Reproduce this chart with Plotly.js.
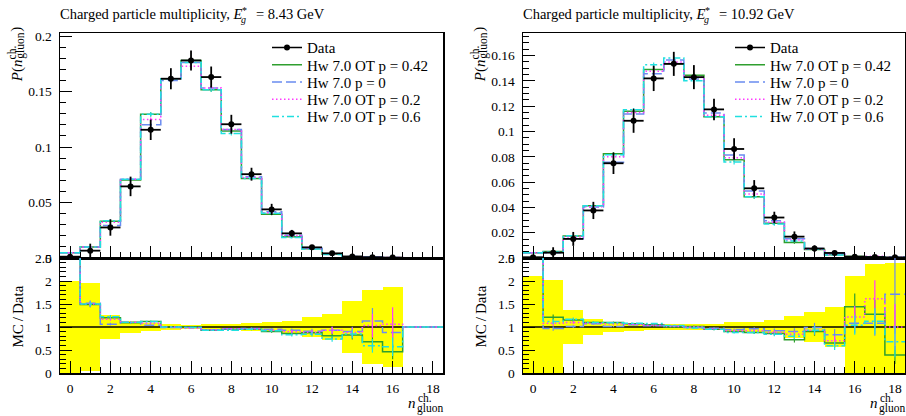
<!DOCTYPE html>
<html>
<head>
<meta charset="utf-8">
<script src="https://cdn.plot.ly/plotly-3.0.1.min.js"></script>
<style>html,body{margin:0;padding:0;background:#fff}#plot{width:906px;height:416px}</style>
</head>
<body>
<div id="plot"></div>
<script>
// ---------------- data ----------------
const nBins = [0,1,2,3,4,5,6,7,8,9,10,11,12,13,14,15,16,17,18];
const modelNames = ['Hw 7.0 OT p = 0.42', 'Hw 7.0 p = 0', 'Hw 7.0 OT p = 0.2', 'Hw 7.0 OT p = 0.6'];
const energies = ['8.43', '10.92'];

// E*_g = 8.43 GeV
const dataL    = [0.0012, 0.0066, 0.0275, 0.0645, 0.1155, 0.1615, 0.178, 0.163, 0.1205, 0.0755, 0.0438, 0.0222, 0.0096, 0.0042, 0.0014, 0.0007, 0.0004];
const dataErrL = [0.0012, 0.0063, 0.0074, 0.0088, 0.0092, 0.0095, 0.0090, 0.0095, 0.0085, 0.0058, 0.0050, 0.0031, 0.0021, 0.0012, 0.0008, 0.00056, 0.00035];
const mcP042L  = [0.0048, 0.00983, 0.0330, 0.0703, 0.1294, 0.1615, 0.178, 0.1516, 0.1145, 0.0717, 0.0394, 0.0191, 0.0084, 0.0034, 0.00116, 0.000476, 0.000184, 0.0001, 0.00005];
const mcP0L    = [0.0048, 0.0100, 0.0292, 0.0710, 0.1201, 0.1599, 0.1762, 0.1532, 0.1157, 0.0732, 0.0416, 0.0206, 0.0087, 0.0039, 0.00126, 0.000791, 0.000352, 0.0001, 0.00005];
const mcP02L   = [0.0048, 0.0099, 0.0322, 0.0710, 0.1247, 0.1615, 0.1727, 0.1532, 0.1157, 0.0725, 0.0407, 0.0200, 0.0085, 0.0039, 0.00123, 0.000721, 0.000424, 0.0001, 0.00005];
const mcP06L   = [0.0048, 0.0099, 0.0336, 0.0710, 0.1294, 0.1615, 0.1762, 0.1516, 0.1121, 0.0717, 0.0403, 0.0184, 0.0081, 0.0031, 0.00119, 0.000413, 0.000228, 0.0001, 0.00005];
const mcRelErrL = [0.05, 0.04, 0.03, 0.02, 0.015, 0.012, 0.012, 0.012, 0.015, 0.02, 0.025, 0.04, 0.06, 0.08, 0.12, 0.25, 0.35, 0, 0];

// E*_g = 10.92 GeV
const dataR    = [0.0006, 0.0042, 0.0151, 0.0376, 0.0749, 0.1085, 0.142, 0.1535, 0.143, 0.1175, 0.0862, 0.0551, 0.032, 0.0169, 0.0075, 0.004, 0.001, 0.0008, 0.0005];
const dataErrR = [0.00066, 0.0043, 0.0055, 0.0068, 0.0085, 0.0095, 0.0100, 0.0095, 0.0095, 0.0085, 0.0085, 0.0065, 0.0046, 0.0041, 0.0025, 0.0017, 0.0011, 0.0011, 0.0007];
const mcP042R  = [0.0042, 0.00508, 0.01737, 0.04136, 0.08239, 0.1161, 0.1491, 0.1535, 0.1444, 0.1116, 0.0776, 0.0485, 0.0275, 0.01217, 0.00675, 0.0026, 0.00144, 0.00102, 0.000195];
const mcP0R    = [0.0042, 0.00407, 0.01525, 0.04023, 0.07565, 0.1139, 0.1456, 0.1566, 0.1416, 0.1146, 0.0815, 0.0529, 0.0294, 0.01521, 0.00743, 0.00332, 0.00108, 0.000864, 0.000855];
const mcP02R   = [0.0042, 0.00454, 0.01661, 0.04061, 0.08014, 0.1150, 0.1477, 0.1550, 0.1430, 0.1128, 0.0793, 0.0507, 0.0282, 0.0142, 0.00698, 0.0028, 0.00122, 0.00129, 0.0005];
const mcP06R   = [0.0042, 0.0047, 0.01767, 0.04136, 0.08164, 0.1172, 0.1527, 0.1581, 0.1401, 0.1116, 0.0759, 0.0485, 0.0269, 0.01352, 0.00698, 0.00236, 0.00104, 0.0009, 0.00034];
const mcRelErrR = [0.05, 0.05, 0.03, 0.02, 0.015, 0.012, 0.012, 0.012, 0.015, 0.02, 0.025, 0.035, 0.05, 0.08, 0.1, 0.15, 0.2, 0.25, 0.5];

// ---------------- styles / layout ----------------
const FONT = 'Liberation Serif, DejaVu Serif, serif';
const W = 906, H = 416;
const modelColors = ['#2f9f2f', '#6a8cf0', '#ff3cff', '#20e0e0'];
const modelDashes = ['solid', '10px,4px', '1.5px,2.5px', '7px,3px,2px,3px'];
const px = x => x / W, py = y => 1 - y / H;

const ctx = document.createElement('canvas').getContext('2d');
function tw(t, size, italic) { ctx.font = (italic ? 'italic ' : '') + size + 'px Liberation Serif, serif'; return ctx.measureText(t).width; }
function ann(text, x, y, size, o) {
  return Object.assign({text: text, x: px(x), y: py(y), xref: 'paper', yref: 'paper', showarrow: false,
    xanchor: 'center', yanchor: 'middle', borderpad: 0, borderwidth: 0,
    font: {family: FONT, size: size, color: '#000'}}, o || {});
}

const panels = [
  {data: dataL, err: dataErrL, mc: [mcP042L, mcP0L, mcP02L, mcP06L], rel: mcRelErrL,
   xt: 'x', yt: 'y', xr: 'x2', yr: 'y2', left: 60, right: 443, energy: energies[0],
   legends: ['legend', 'legend2', 'legend3', 'legend4', 'legend5'], legX: 267},
  {data: dataR, err: dataErrR, mc: [mcP042R, mcP0R, mcP02R, mcP06R], rel: mcRelErrR,
   xt: 'x3', yt: 'y3', xr: 'x4', yr: 'y4', left: 523, right: 905, energy: energies[1],
   legends: ['legend6', 'legend7', 'legend8', 'legend9', 'legend10'], legX: 730}
];

const traces = [];
panels.forEach(p => {
  const nD = p.data.length;
  const dBins = nBins.slice(0, nD);
  const edgesD = dBins.map(n => n - 0.5).concat([dBins[nD - 1] + 0.5]);
  const edgesAll = nBins.map(n => n - 0.5).concat([nBins[nBins.length - 1] + 0.5]);
  const relD = p.data.map((v, i) => p.err[i] / v);
  // data uncertainty band in ratio
  traces.push({type: 'bar', x: dBins, base: relD.map(r => 1 - r), y: relD.map(r => 2 * r), width: 1,
    xaxis: p.xr, yaxis: p.yr, marker: {color: '#ffff00', line: {width: 0}}, showlegend: false, hoverinfo: 'skip'});
  // data / data = 1
  const ones = p.data.map(v => v / v);
  traces.push({type: 'scatter', mode: 'lines', x: edgesD, y: ones.concat([ones[nD - 1]]),
    line: {color: '#000', width: 1.6, shape: 'hv'}, xaxis: p.xr, yaxis: p.yr, showlegend: false, hoverinfo: 'skip'});
  p.mc.forEach((vals, k) => {
    const lstyle = {color: modelColors[k], width: 1.5, dash: modelDashes[k], shape: 'hv'};
    const ratio = vals.map((v, i) => (p.data[i] == null ? 1 : v / p.data[i]));
    traces.push({type: 'scatter', mode: 'lines', x: edgesAll, y: vals.concat([vals[vals.length - 1]]),
      line: lstyle, xaxis: p.xt, yaxis: p.yt, name: modelNames[k], legend: p.legends[k + 1], showlegend: true, hoverinfo: 'skip'});
    traces.push({type: 'scatter', mode: 'lines', x: edgesAll, y: ratio.concat([ratio[ratio.length - 1]]),
      line: lstyle, xaxis: p.xr, yaxis: p.yr, showlegend: false, hoverinfo: 'skip'});
    const eb = {type: 'data', color: modelColors[k], thickness: 1.2, width: 0};
    traces.push({type: 'scatter', mode: 'markers', x: nBins, y: vals, marker: {size: 0.1, color: 'rgba(0,0,0,0)'},
      error_y: Object.assign({array: vals.map((v, i) => v * p.rel[i])}, eb), xaxis: p.xt, yaxis: p.yt, showlegend: false, hoverinfo: 'skip'});
    traces.push({type: 'scatter', mode: 'markers', x: nBins, y: ratio, marker: {size: 0.1, color: 'rgba(0,0,0,0)'},
      error_y: Object.assign({array: ratio.map((r, i) => r * p.rel[i])}, eb), xaxis: p.xr, yaxis: p.yr, showlegend: false, hoverinfo: 'skip'});
  });
  // data points
  traces.push({type: 'scatter', mode: 'markers', x: dBins, y: p.data, marker: {color: '#000', size: 6},
    error_x: {type: 'data', array: dBins.map(() => 0.5), color: '#000', thickness: 1.8, width: 0},
    error_y: {type: 'data', array: p.err, color: '#000', thickness: 1.8, width: 0},
    xaxis: p.xt, yaxis: p.yt, showlegend: false, hoverinfo: 'skip'});
  // legend entry for data
  traces.push({type: 'scatter', mode: 'lines+markers', x: [null], y: [null], name: 'Data', legend: p.legends[0],
    line: {color: '#000', width: 1.6}, marker: {color: '#000', size: 6}, xaxis: p.xt, yaxis: p.yt, showlegend: true});
});

function xAxis(p, anchor, labels) {
  return {domain: [px(p.left), px(p.right)], anchor: anchor, range: [-0.5, 18.5], dtick: 2, tick0: 0,
    ticks: 'inside', ticklen: 12, tickwidth: 1, tickcolor: '#000', showticklabels: labels,
    tickfont: {family: FONT, size: 13.5, color: '#000'}, ticklabelstandoff: 2,
    minor: {dtick: 0.5, tick0: 0, ticks: 'inside', ticklen: 6, tickwidth: 1, tickcolor: '#000', showgrid: false},
    showline: true, mirror: true, linecolor: '#000', linewidth: 1.5, showgrid: false, zeroline: false, fixedrange: true};
}
function yAxis(anchor, dom, range, dt, mdt) {
  return {domain: dom, anchor: anchor, range: range, dtick: dt, tick0: 0,
    ticks: 'inside', ticklen: 12, tickwidth: 1, tickcolor: '#000',
    tickfont: {family: FONT, size: 13.5, color: '#000'}, ticklabelstandoff: 4,
    minor: {dtick: mdt, tick0: 0, ticks: 'inside', ticklen: 6, tickwidth: 1, tickcolor: '#000', showgrid: false},
    showline: true, mirror: true, linecolor: '#000', linewidth: 1.5, showgrid: false, zeroline: false, fixedrange: true};
}

const topDom = [py(258), py(33)], ratDom = [py(373), py(258)];
const layout = {
  width: W, height: H, margin: {l: 0, r: 0, t: 0, b: 0},
  paper_bgcolor: '#fff', plot_bgcolor: '#fff', barmode: 'overlay', bargap: 0, showlegend: true,
  font: {family: FONT, color: '#000'},
  xaxis: xAxis(panels[0], 'y', false),
  yaxis: yAxis('x', topDom, [0, 0.2027], 0.05, 0.01),
  xaxis2: xAxis(panels[0], 'y2', true),
  yaxis2: yAxis('x2', ratDom, [0, 2.5], 0.5, 0.1),
  xaxis3: xAxis(panels[1], 'y3', false),
  yaxis3: yAxis('x3', topDom, [0, 0.1779], 0.02, 0.005),
  xaxis4: xAxis(panels[1], 'y4', true),
  yaxis4: yAxis('x4', ratDom, [0, 2.5], 0.5, 0.1),
  annotations: []
};

const legRows = [47.7, 65, 82.2, 99.5, 116.7];
panels.forEach(p => {
  p.legends.forEach((id, i) => {
    layout[id] = {x: px(p.legX), y: py(legRows[i]), xanchor: 'left', yanchor: 'middle',
      bgcolor: 'rgba(0,0,0,0)', borderwidth: 0, font: {family: FONT, size: 15, color: '#000'}, itemwidth: 30};
  });
  // title
  const a = 'Charged particle multiplicity, ';
  const xe = p.left + tw(a, 14.5) + tw('E', 14.5, true);
  layout.annotations.push(
    ann(a + '<i>E</i>', p.left, 14, 14.5, {xanchor: 'left'}),
    ann('*', xe + 2.5, 10.5, 10),
    ann('<i>g</i>', xe + 1.5, 19.5, 10),
    ann('= ' + p.energy + ' GeV', xe + 14, 14, 14.5, {xanchor: 'left'})
  );
  // y title (rotated)
  const xc = p.left - 43, yb = 82;
  const w1 = tw('P', 15, true) + tw('(', 15) + tw('n', 15, true);
  const wc = tw('ch.', 11.5), wg = tw('gluon', 11.5), wp = tw(')', 15);
  layout.annotations.push(
    ann('<i>P</i>(<i>n</i>', xc, yb - w1 / 2, 15, {textangle: -90}),
    ann('ch.', xc - 5, yb - w1 - wc / 2 - 1, 11.5, {textangle: -90}),
    ann('gluon', xc + 3.5, yb - w1 - wg / 2 - 1, 11.5, {textangle: -90}),
    ann(')', xc, yb - w1 - Math.max(wc, wg) - wp / 2 - 2, 15, {textangle: -90}),
    ann('MC\u2009/\u2009Data', p.left - 42.5, 317, 15, {textangle: -90})
  );
  // x title
  const xs = p.right - wg;
  layout.annotations.push(
    ann('<i>n</i>', xs - 0.5, 402.5, 15, {xanchor: 'right'}),
    ann('ch.', xs + 1, 397.5, 11.5, {xanchor: 'left'}),
    ann('gluon', p.right, 408.5, 11.5, {xanchor: 'right'})
  );
});

Plotly.newPlot('plot', traces, layout, {staticPlot: true});
</script>
</body>
</html>
